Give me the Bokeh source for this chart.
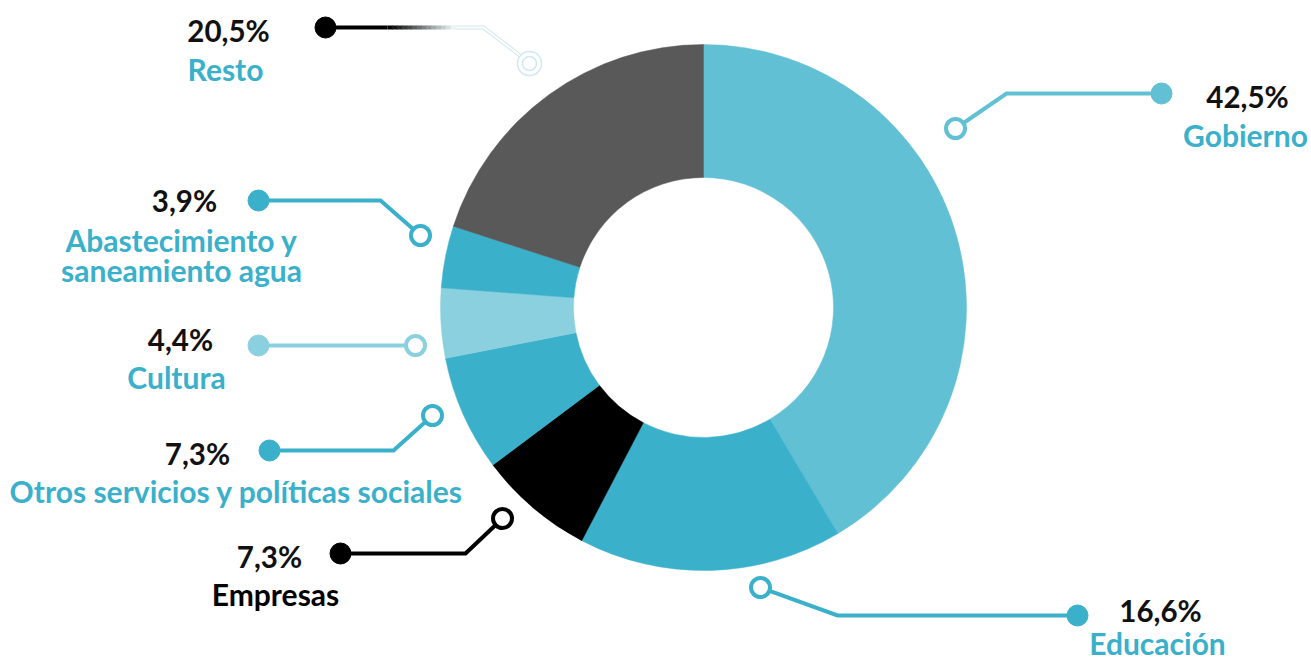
import math
from bokeh.plotting import figure
from bokeh.models import Range1d, ColumnDataSource
from bokeh.embed import file_html
from bokeh.resources import INLINE
from bokeh.core.properties import value

# ---- data ----
categories = ["Gobierno", "Educación", "Empresas",
              "Otros servicios y políticas sociales", "Cultura",
              "Abastecimiento y saneamiento agua", "Resto"]
values = [42.5, 16.6, 7.3, 7.3, 4.4, 3.9, 20.5]
label_lines = [["Gobierno"], ["Educación"], ["Empresas"],
               ["Otros servicios y políticas sociales"], ["Cultura"],
               ["Abastecimiento y", "saneamiento agua"], ["Resto"]]

# ---- styles ----
slice_colors = ["#62C0D5", "#3AB0CA", "#000000", "#3AB0CA", "#8BD0DF", "#3AB0CA", "#595959"]
line_colors = ["#62C0D5", "#3AB0CA", "#000000", "#3AB0CA", "#8BD0DF", "#3AB0CA", "#000000"]
name_colors = ["#3AB0CA", "#3AB0CA", "#000000", "#3AB0CA", "#3AB0CA", "#3AB0CA", "#3AB0CA"]

# ---- layout (pixel positions, text given by visual centre) ----
W, H = 1311, 661
CX, CY = 703, 307
R_OUT, R_IN = 263, 130
pct_pos = [(1247, 96), (1160, 610), (269, 556), (197, 453), (180, 339), (184, 200), (228, 30)]
name_pos = [(1245, 134), (1157, 642), (275, 593), (236, 490), (176, 376), (181, 239), (225, 68)]
line_step = 30
# connector paths: ring point -> elbow -> dot point
paths = [
    [(955, 128), (1006, 93), (1161, 93)],
    [(760, 587), (837, 615), (1077, 615)],
    [(502, 518), (465, 553), (340, 553)],
    [(432, 415), (393, 450), (269, 450)],
    [(415, 345), (258, 345)],
    [(420, 235), (380, 200), (258, 200)],
    None,
]

p = figure(width=W, height=H, output_backend="svg", toolbar_location=None,
           x_range=Range1d(0, W), y_range=Range1d(-H, 0),
           min_border=0)
p.axis.visible = False
p.grid.visible = False
p.outline_line_color = None
p.background_fill_color = "white"
p.border_fill_color = "white"

# donut
total = sum(values)
cum = [0.0]
for v in values:
    cum.append(cum[-1] + v / total)
starts = [math.pi / 2 - c * 2 * math.pi for c in cum[:-1]]
ends = [math.pi / 2 - c * 2 * math.pi for c in cum[1:]]
src = ColumnDataSource(dict(start=starts, end=ends, color=slice_colors))
p.annular_wedge(x=CX, y=-CY, inner_radius=R_IN, outer_radius=R_OUT,
                start_angle="start", end_angle="end", direction="clock",
                fill_color="color", line_color="color", line_width=0.5, source=src)

# connectors
for i, path in enumerate(paths):
    if path is None:
        continue
    c = line_colors[i]
    xs = [pt[0] for pt in path]
    ys = [-pt[1] for pt in path]
    p.line(xs, ys, line_color=c, line_width=4, line_join="miter")
    p.scatter([xs[-1]], [ys[-1]], marker="circle", size=21, fill_color=c, line_color=c)
    p.scatter([xs[0]], [ys[0]], marker="circle", size=19, fill_color="white",
              line_color=c, line_width=4)

# Resto connector with fading gradient
faint = "#CFE8EF"
p.line([325, 387], [-27, -27], line_color="#000000", line_width=4)
n = 14
x0, x1 = 387, 455
for k in range(n):
    t = k / (n - 1)
    r = int(0xE8 * t)
    g = int(0xF3 * t)
    b = int(0xF6 * t)
    xa = x0 + (x1 - x0) * k / n
    xb = x0 + (x1 - x0) * (k + 1) / n + 0.5
    p.line([xa, xb], [-27, -27], line_color="#%02x%02x%02x" % (r, g, b), line_width=4)
p.line([455, 483, 522], [-27, -27, -57], line_color=faint, line_width=4, line_join="miter")
p.line([455, 483, 522], [-27, -27, -57], line_color="white", line_width=2, line_join="miter")
p.scatter([325], [-27], marker="circle", size=21, fill_color="#000000", line_color="#000000")
p.scatter([529], [-63], marker="circle", size=24, fill_color="white", line_color=faint, line_width=1.5)
p.scatter([529], [-63], marker="circle", size=14, fill_color="white", line_color=faint, line_width=1.5)

# labels
font = value("Lato")
pct_texts = [("%.1f" % v).replace(".", ",") + "%" for v in values]
p.text(x=[q[0] for q in pct_pos], y=[-q[1] for q in pct_pos], text=pct_texts,
       text_align="center", text_baseline="middle", text_font=font,
       text_font_style="bold", text_font_size="29.5px", text_color="#111111")
nx, ny, nt, nc = [], [], [], []
for i, lines in enumerate(label_lines):
    for j, ln in enumerate(lines):
        nx.append(name_pos[i][0])
        ny.append(-(name_pos[i][1] + j * line_step))
        nt.append(ln)
        nc.append(name_colors[i])
p.text(x=nx, y=ny, text=nt, text_color=nc, text_align="center",
       text_baseline="middle", text_font=font, text_font_style="bold",
       text_font_size="30px")

open("out.html", "w").write(file_html(p, INLINE))
